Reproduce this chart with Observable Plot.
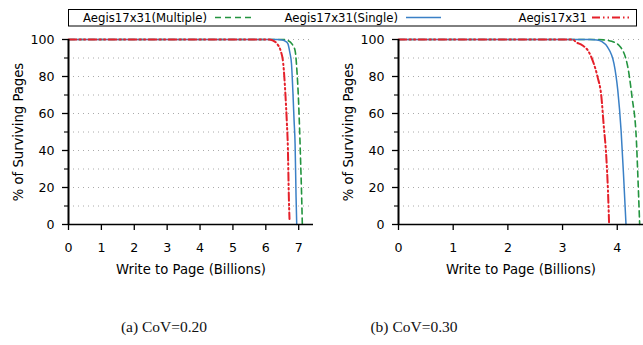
<!DOCTYPE html>
<html>
<head>
<meta charset="utf-8">
<script src="https://cdn.jsdelivr.net/npm/d3@7"></script>
<script src="https://cdn.jsdelivr.net/npm/@observablehq/plot@0.6"></script>
<style>
  html, body { margin: 0; padding: 0; background: #fff; }
  #wrap { position: relative; width: 643px; height: 345px; overflow: hidden; background: #fff; }
  .panel { position: absolute; top: 0; }
  .caption { position: absolute; top: 318px; width: 200px; text-align: center; font-family: "Liberation Serif", "Times New Roman", serif; font-size: 15.5px; color: #111; }
  #legend { position: absolute; left: 0; top: 0; }
</style>
</head>
<body>
<div id="wrap">
  <div id="left" class="panel" style="left:0px"></div>
  <div id="right" class="panel" style="left:330px"></div>
  <svg id="legend" width="643" height="30"></svg>
  <div class="caption" style="left:64px">(a) CoV=0.20</div>
  <div class="caption" style="left:314px">(b) CoV=0.30</div>
</div>
<script>
// ---- data ----
const seriesNames = ["Aegis17x31(Multiple)", "Aegis17x31(Single)", "Aegis17x31"];
const seriesColors = ["#23943f", "#3a80c6", "#e5202a"];
const seriesDash = ["6,4", null, "8,3,1.5,3,1.5,3"];
const seriesWidth = [1.6, 1.5, 2.0];

const xTicks20 = [0, 1, 2, 3, 4, 5, 6, 7];
const xTicks30 = [0, 1, 2, 3, 4];
const yTicks = [0, 20, 40, 60, 80, 100];
const yMinorTicks = [10, 30, 50, 70, 90];
const yGrid = [10, 20, 30, 40, 50, 60, 70, 80, 90, 100];

const xTitle = "Write to Page (Billions)";
const yTitle = "% of Surviving Pages";

// CoV = 0.20
const cov20MultipleX = [0, 6.5, 6.66, 6.8, 6.89, 6.95, 6.99, 7.03, 7.06, 7.09, 7.11];
const cov20MultipleY = [100, 100, 99.5, 97.5, 94, 82, 69, 50, 33, 15, 0];
const cov20SingleX = [0, 6.35, 6.5, 6.6, 6.67, 6.73, 6.78, 6.83, 6.86, 6.89, 6.92, 6.94];
const cov20SingleY = [100, 100, 99.7, 99, 97.8, 93, 87, 69, 56, 43.7, 14.8, 0];
const cov20BaseX = [0, 6.1, 6.2, 6.35, 6.45, 6.53, 6.6, 6.64, 6.67, 6.70, 6.72];
const cov20BaseY = [100, 100, 99.6, 97.5, 94, 87, 69, 55, 42, 15, 3];

// CoV = 0.30
const cov30MultipleX = [0, 3.6, 3.75, 3.9, 4.03, 4.18, 4.27, 4.35, 4.38, 4.41];
const cov30MultipleY = [100, 100, 99.8, 99, 96.9, 87, 69, 45.5, 23.8, 0];
const cov30SingleX = [0, 3.5, 3.63, 3.72, 3.82, 3.94, 4.01, 4.07, 4.12, 4.16];
const cov30SingleY = [100, 100, 99.7, 98.8, 96, 87, 72.5, 50.9, 23.8, 0];
const cov30BaseX = [0, 3.1, 3.2, 3.24, 3.36, 3.48, 3.57, 3.64, 3.71, 3.75, 3.80, 3.83, 3.85];
const cov30BaseY = [100, 100, 99.8, 98.7, 96.9, 93.3, 87, 79.8, 69, 54.5, 36.4, 18.4, 1.2];

function toRows(xs, ys) { return xs.map((x, i) => ({x, y: ys[i]})); }

function panel({width, xDomain, xTicks, marginRight, lines}) {
  const lineMarks = lines.map((rows, i) => Plot.line(rows, {
    x: "x", y: "y", curve: "monotone-x",
    stroke: seriesColors[i], strokeWidth: seriesWidth[i],
    strokeDasharray: seriesDash[i] || undefined
  }));
  return Plot.plot({
    width, height: 290,
    marginLeft: 68, marginRight, marginTop: 39, marginBottom: 66,
    style: {fontFamily: "DejaVu Sans, sans-serif", fontSize: "12.6px", color: "#000", background: "transparent", overflow: "visible"},
    x: {domain: xDomain},
    y: {domain: [0, 100]},
    marks: [
      Plot.gridY(yGrid, {stroke: "#aaa", strokeOpacity: 1, strokeDasharray: "1,4", strokeWidth: 1}),
      ...lineMarks,
      Plot.axisX(xTicks, {tickSize: 6, tickPadding: 13, label: null, strokeWidth: 1.3}),
      Plot.axisY(yTicks, {tickSize: 6, tickPadding: 8, label: null, strokeWidth: 1.3}),
      Plot.axisY(yMinorTicks, {tickSize: 4, text: null, label: null, strokeWidth: 1.1}),
      Plot.ruleY([0], {strokeWidth: 1.6}),
      Plot.ruleX([0], {strokeWidth: 2}),
      Plot.text([xTitle], {frameAnchor: "bottom", dy: 45, text: d => d, textAnchor: "middle", lineAnchor: "middle", fontSize: 13.2}),
      Plot.text([yTitle], {frameAnchor: "left", dx: -50, rotate: -90, text: d => d, textAnchor: "middle", lineAnchor: "middle", fontSize: 13.2})
    ]
  });
}

document.getElementById("left").append(panel({
  width: 330, xDomain: [0, 7.45], xTicks: xTicks20, marginRight: 17,
  lines: [toRows(cov20MultipleX, cov20MultipleY), toRows(cov20SingleX, cov20SingleY), toRows(cov20BaseX, cov20BaseY)]
}));
document.getElementById("right").append(panel({
  width: 313, xDomain: [0, 4.48], xTicks: xTicks30, marginRight: 0,
  lines: [toRows(cov30MultipleX, cov30MultipleY), toRows(cov30SingleX, cov30SingleY), toRows(cov30BaseX, cov30BaseY)]
}));

// ---- legend ----
const legendTextEnd = [207, 398, 587];
const legendSample = [[215, 251], [406, 441], [592, 631]];
const svg = d3.select("#legend");
svg.append("rect").attr("x", 68.5).attr("y", 9.5).attr("width", 568).attr("height", 16.5)
  .attr("fill", "#fff").attr("stroke", "#000").attr("stroke-width", 1);
seriesNames.forEach((name, i) => {
  svg.append("text").attr("x", legendTextEnd[i]).attr("y", 21.5).attr("text-anchor", "end")
    .attr("font-family", "DejaVu Sans, sans-serif").attr("font-size", 11.7).attr("fill", "#000").text(name);
  svg.append("line").attr("x1", legendSample[i][0]).attr("x2", legendSample[i][1]).attr("y1", 17.5).attr("y2", 17.5)
    .attr("stroke", seriesColors[i]).attr("stroke-width", seriesWidth[i])
    .attr("stroke-dasharray", seriesDash[i]);
});
</script>
</body>
</html>
